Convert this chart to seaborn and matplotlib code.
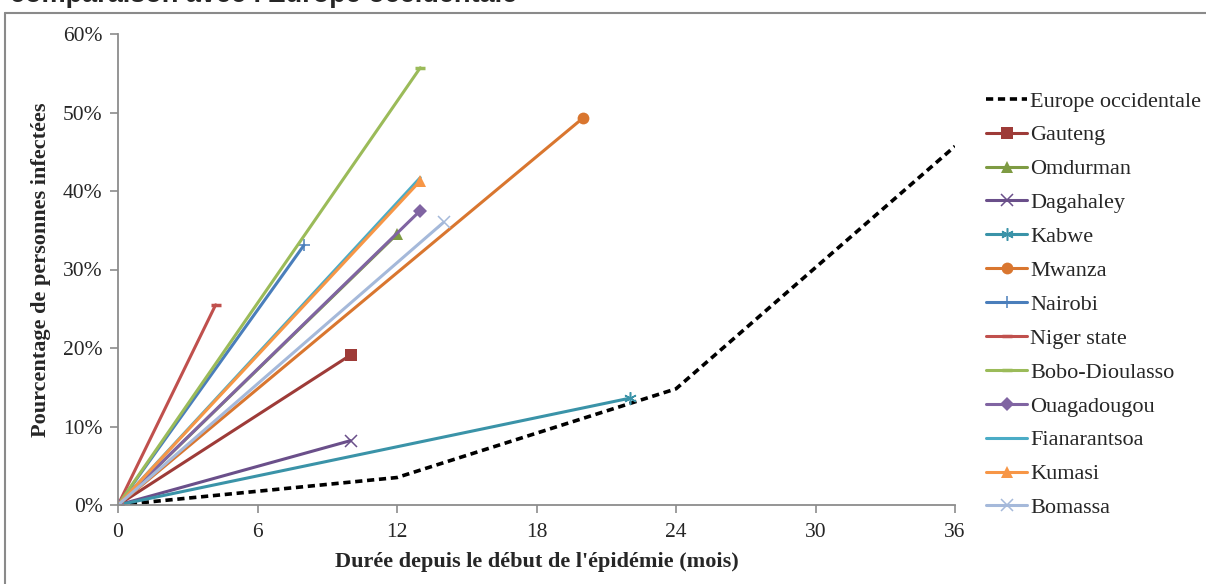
import matplotlib
matplotlib.use("Agg")
import matplotlib.pyplot as plt
import seaborn as sns
import numpy as np
import pandas as pd
from matplotlib.lines import Line2D
from matplotlib.ticker import FuncFormatter

# ---- data ----
europe_x = [0, 12, 24, 36]
europe_y = [0.0, 0.035, 0.148, 0.457]

series_names = ["Gauteng", "Omdurman", "Dagahaley", "Kabwe", "Mwanza", "Nairobi",
                "Niger state", "Bobo-Dioulasso", "Ouagadougou", "Fianarantsoa",
                "Kumasi", "Bomassa"]
end_months = [10, 12, 10, 22, 20, 8, 4.2, 13, 13, 13, 13, 14]
end_values = [0.191, 0.345, 0.082, 0.136, 0.493, 0.331, 0.255, 0.557, 0.375, 0.417, 0.413, 0.360]
series_colors = ["#9E3B38", "#7E9B43", "#6A4F8A", "#3A93A8", "#D9762F", "#4A7EBB",
                 "#C0504D", "#9BBB59", "#8064A2", "#4BACC6", "#F79646", "#A5B9DA"]
series_markers = ["s", "^", "x", (6, 2, 0), "o", "+", "_", "_", "D", None, "^", "x"]
marker_sizes = [9, 9, 9, 9, 8.5, 9, 7, 7, 7, 0, 9, 9]

x_ticks = [0, 6, 12, 18, 24, 30, 36]
y_ticks = [0, 0.1, 0.2, 0.3, 0.4, 0.5, 0.6]

title_text = "comparaison avec l'Europe occidentale"
xlabel = "Durée depuis le début de l'épidémie (mois)"
ylabel = "Pourcentage de personnes infectées"

# ---- figure ----
sns.set_theme(style="white")
plt.rcParams['font.family'] = ['Liberation Serif', 'DejaVu Serif']

W, H = 1206, 584
fig = plt.figure(figsize=(W / 100, H / 100), dpi=100)
ax = fig.add_axes([118 / W, (H - 505) / H, (955 - 118) / W, (505 - 34) / H])

sns.lineplot(x=europe_x, y=europe_y, ax=ax, color="black", linewidth=2.6,
             linestyle=(0, (2.0, 1.3)), label="Europe occidentale", sort=False)

for name, xe, ye, c, m, ms in zip(series_names, end_months, end_values,
                                  series_colors, series_markers, marker_sizes):
    df = pd.DataFrame({"x": [0, xe], "y": [0.0, ye]})
    kws = dict(color=c, linewidth=2.2, label=name, sort=False)
    if m is not None:
        thin = m in ("x", "+", (6, 2, 0))
        kws.update(marker=m, markersize=ms, markeredgecolor=c, markerfacecolor=c,
                   markeredgewidth=(1.1 if thin else (2.5 if m == "_" else 0)))
    sns.lineplot(data=df, x="x", y="y", ax=ax, **kws)

ax.set_xlim(0, 36)
ax.set_ylim(0, 0.6)
ax.set_xticks(x_ticks)
ax.set_yticks(y_ticks)
ax.yaxis.set_major_formatter(FuncFormatter(lambda v, p: f"{v*100:.0f}%"))
ax.tick_params(axis="both", which="major", direction="out", length=6, width=1.2,
               color="#8C8C8C", labelsize=15.5, bottom=True, left=True)
ax.tick_params(axis="x", pad=7)
ax.tick_params(axis="y", pad=5)
for s in ["top", "right"]:
    ax.spines[s].set_visible(False)
for s in ["left", "bottom"]:
    ax.spines[s].set_color("#8C8C8C")
    ax.spines[s].set_linewidth(1.3)
ax.grid(False)
ax.set_xlabel(xlabel, fontsize=16, fontweight="bold", labelpad=7)
ax.set_ylabel(ylabel, fontsize=16, fontweight="bold", labelpad=9)

leg = ax.legend(loc="upper left", bbox_to_anchor=(986 / W, 1 - 91 / H),
                bbox_transform=fig.transFigure, frameon=False, fontsize=16,
                handlelength=1.85, handletextpad=0.15, labelspacing=0.60,
                borderpad=0, borderaxespad=0)

# chart border
fig.add_artist(Line2D([5 / W, 1.0], [1 - 13 / H, 1 - 13 / H], transform=fig.transFigure,
                      color="#8A8A8A", linewidth=1.5))
fig.add_artist(Line2D([5 / W, 5 / W], [0, 1 - 13 / H], transform=fig.transFigure,
                      color="#8A8A8A", linewidth=1.5))

fig.text(10 / W, 1 - 1.5 / H, title_text, fontsize=19.5, fontweight="bold",
         family=["Liberation Sans", "DejaVu Sans"], va="baseline", ha="left")

fig.savefig("out.png", dpi=100)
